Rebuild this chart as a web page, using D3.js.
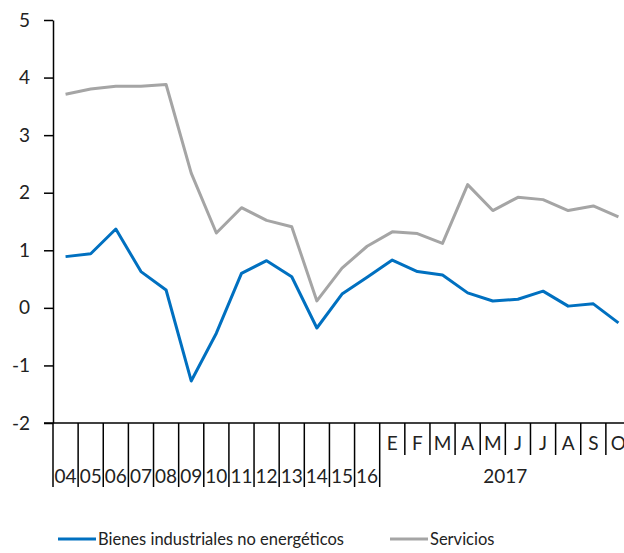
<!DOCTYPE html>
<html>
<head>
<meta charset="utf-8">
<script src="https://cdn.jsdelivr.net/npm/d3@7/dist/d3.min.js"></script>
<style>
  body { margin: 0; background: #fff; }
  svg { display: block; font-family: Lato, "Open Sans", sans-serif; }
</style>
</head>
<body>
<svg width="624" height="553"></svg>
<script>
// Datos
const years = ["04", "05", "06", "07", "08", "09", "10", "11", "12", "13", "14", "15", "16"];
const months = ["E", "F", "M", "A", "M", "J", "J", "A", "S", "O"];
const monthYear = "2017";

const bienes = [0.89, 0.94, 1.37, 0.63, 0.31, -1.27, -0.44, 0.6, 0.82, 0.54, -0.35, 0.24, 0.53,
  0.83, 0.63, 0.57, 0.26, 0.12, 0.15, 0.29, 0.03, 0.07, -0.26];
const servicios = [3.71, 3.8, 3.85, 3.85, 3.88, 2.34, 1.3, 1.74, 1.52, 1.41, 0.12, 0.69, 1.07,
  1.32, 1.29, 1.12, 2.14, 1.69, 1.92, 1.88, 1.69, 1.77, 1.58];
const yTicks = [-2, -1, 0, 1, 2, 3, 4, 5];

const seriesNames = ["Bienes industriales no energéticos", "Servicios"];
const colors = ["#0070c0", "#a5a5a5"];

const categories = years.concat(months);
const idx = d3.range(categories.length);

const svg = d3.select("svg");
const mLeft = 53, mRight = 631, mTop = 20, mBottom = 423;

const x = d3.scaleBand().domain(idx).range([mLeft, mRight]);
const y = d3.scaleLinear().domain([-2, 5]).range([mBottom, mTop]);

// Eje Y
svg.append("g")
  .attr("transform", `translate(${mLeft},0)`)
  .call(d3.axisLeft(y).tickValues(yTicks).tickSize(9).tickPadding(14).tickSizeOuter(0))
  .call(g => g.select(".domain").attr("stroke", "#000").attr("stroke-width", 1.5))
  .call(g => g.selectAll(".tick line").attr("stroke", "#000").attr("stroke-width", 1.5))
  .call(g => g.selectAll(".tick text")
    .attr("font-family", "Lato, sans-serif")
    .attr("font-size", 19)
    .attr("fill", "#222")
    .text(d => d < 0 ? "-" + Math.abs(d) : d));

// Eje X
svg.append("line")
  .attr("x1", mLeft - 9).attr("x2", 624)
  .attr("y1", mBottom).attr("y2", mBottom)
  .attr("stroke", "#000").attr("stroke-width", 1.5);

const boundaries = idx.concat([categories.length]);
svg.append("g")
  .selectAll("line")
  .data(boundaries)
  .join("line")
  .attr("x1", i => i < categories.length ? x(i) : mRight)
  .attr("x2", i => i < categories.length ? x(i) : mRight)
  .attr("y1", mBottom)
  .attr("y2", i => (i > years.length && i < categories.length) ? mBottom + 32 : mBottom + 64)
  .attr("stroke", "#000").attr("stroke-width", 1.5);

svg.append("g")
  .selectAll("text")
  .data(idx)
  .join("text")
  .attr("x", i => x(i) + x.bandwidth() / 2)
  .attr("y", i => i < years.length ? 483 : 450)
  .attr("text-anchor", "middle")
  .attr("font-size", 19)
  .attr("fill", "#222")
  .text(i => categories[i]);

svg.append("text")
  .attr("x", (x(years.length) + mRight) / 2)
  .attr("y", 483)
  .attr("text-anchor", "middle")
  .attr("font-size", 19)
  .attr("fill", "#222")
  .text(monthYear);

// Líneas
const line = d3.line()
  .x((d, i) => x(i) + x.bandwidth() / 2)
  .y(d => y(d));

[servicios, bienes].forEach((s, k) => {
  svg.append("path")
    .datum(s)
    .attr("fill", "none")
    .attr("stroke", colors[1 - k])
    .attr("stroke-width", 3)
    .attr("stroke-linejoin", "round")
    .attr("d", line);
});

// Leyenda
const legendX = [58, 390];
const lg = svg.append("g")
  .selectAll("g")
  .data(seriesNames)
  .join("g")
  .attr("transform", (d, i) => `translate(${legendX[i]},539)`);

lg.append("line")
  .attr("x1", 0).attr("x2", 38)
  .attr("stroke", (d, i) => colors[i])
  .attr("stroke-width", 3);

lg.append("text")
  .attr("x", 40)
  .attr("y", 6)
  .attr("font-size", 16.5)
  .attr("fill", "#222")
  .text(d => d);
</script>
</body>
</html>
